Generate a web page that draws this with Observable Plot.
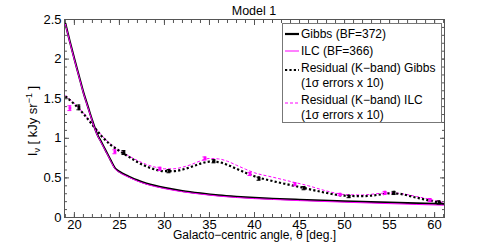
<!DOCTYPE html>
<html><head><meta charset="utf-8">
<script src="https://cdn.jsdelivr.net/npm/d3@7"></script>
<script src="https://cdn.jsdelivr.net/npm/@observablehq/plot@0.6"></script>
<style>
body{margin:0;background:#fff;font-family:"Liberation Sans",Arial,sans-serif;}
#fig{position:relative;width:491px;height:245px;}
#title{position:absolute;left:0;width:508px;top:4px;text-align:center;font-size:12.5px;color:#000;}
#ylab{position:absolute;left:33px;top:121px;transform:translate(-50%,-50%) rotate(-90deg);white-space:nowrap;font-size:13px;}
#legend{position:absolute;left:282px;top:23px;width:158px;height:98px;border:1px solid #777;background:#fff;font-size:12px;}
.li{position:absolute;left:18px;white-space:nowrap;line-height:14px;}
.ls{position:absolute;left:1px;}
</style></head>
<body><div id="fig">
<div id="title">Model 1</div>
<div id="ylab">I<sub style="font-size:9px">ν</sub> [ kJy sr<sup style="font-size:9px">−1</sup> ]</div>
</div>
<script>
const thetaSmooth = [19,19.5,20,20.5,21,21.5,22,22.5,23,23.5,24,24.5,25,26,27,28,29,30,32,34,36,38,40,42,45,50,55,61];
const gibbsSmooth = [2.45,2.22,2.0,1.79,1.58,1.40,1.22,1.06,0.95,0.84,0.73,0.625,0.58,0.52,0.47,0.43,0.40,0.375,0.335,0.305,0.28,0.262,0.248,0.238,0.225,0.205,0.19,0.17];
const ilcSmooth   = [2.44,2.21,1.99,1.78,1.57,1.39,1.21,1.05,0.94,0.83,0.72,0.615,0.57,0.51,0.46,0.42,0.39,0.365,0.325,0.295,0.27,0.252,0.238,0.228,0.213,0.193,0.175,0.155];

const thetaResid = [19,20,21,22,23,24,25,26,27,28,29,30,31,32,33,34,35,36,37,38,39,40,42,44,46,48,50,52,54,55,56,58,60,61];
const gibbsResid = [1.53,1.43,1.31,1.17,1.03,0.92,0.84,0.77,0.70,0.645,0.605,0.585,0.585,0.605,0.64,0.68,0.705,0.70,0.665,0.615,0.565,0.52,0.46,0.41,0.36,0.31,0.275,0.27,0.29,0.305,0.30,0.25,0.20,0.175];
const ilcResid   = [1.54,1.44,1.32,1.18,1.04,0.93,0.85,0.78,0.72,0.67,0.635,0.615,0.615,0.635,0.67,0.715,0.745,0.74,0.71,0.66,0.61,0.565,0.51,0.455,0.40,0.335,0.29,0.285,0.305,0.31,0.305,0.265,0.215,0.19];

const gibbsPtX = [20.5,25.5,30.5,35.5,40.5,45.5,50.5,55.5,60.5];
const gibbsPtY = [1.39,0.82,0.585,0.71,0.49,0.37,0.265,0.31,0.19];
const gibbsPtE = [0.03,0.025,0.02,0.02,0.02,0.02,0.015,0.02,0.02];
const ilcPtX = [19.5,24.5,29.5,34.5,39.5,44.5,49.5,54.5,59.5];
const ilcPtY = [1.38,0.83,0.615,0.745,0.55,0.42,0.29,0.31,0.22];
const ilcPtE = [0.03,0.025,0.02,0.02,0.02,0.02,0.015,0.02,0.02];

const xMajor = [20,25,30,35,40,45,50,55,60];
const xMinor = d3.range(19,62,1);
const yMajor = [0,0.5,1,1.5,2,2.5];
const yMinor = d3.range(0,26).map(i=>i/10);

const smooth = thetaSmooth.map((t,i)=>({t,g:gibbsSmooth[i],l:ilcSmooth[i]}));
const resid = thetaResid.map((t,i)=>({t,g:gibbsResid[i],l:ilcResid[i]}));
const gp = gibbsPtX.map((t,i)=>({t,y:gibbsPtY[i],e:gibbsPtE[i]}));
const lp = ilcPtX.map((t,i)=>({t,y:ilcPtY[i],e:ilcPtE[i]}));
const M = "#ff00ff";

function errMarks(data, color){
  return [
    Plot.ruleX(data,{x:"t",y1:d=>d.y-d.e,y2:d=>d.y+d.e,stroke:color,strokeWidth:1.5}),
    Plot.ruleY(data,{y:d=>d.y-d.e,x1:d=>d.t-0.22,x2:d=>d.t+0.22,stroke:color,strokeWidth:1}),
    Plot.ruleY(data,{y:d=>d.y+d.e,x1:d=>d.t-0.22,x2:d=>d.t+0.22,stroke:color,strokeWidth:1}),
    Plot.dot(data,{x:"t",y:"y",symbol:"square",r:1.6,fill:color,stroke:"none"})
  ];
}

const chart = Plot.plot({
  width:491, height:245,
  marginLeft:64, marginRight:47, marginTop:19, marginBottom:28,
  style:{fontFamily:"Liberation Sans, Arial, sans-serif", fontSize:"13px", color:"#000", background:"transparent"},
  x:{domain:[18.9,61.1]},
  y:{domain:[0,2.5]},
  marks:[
    Plot.line(resid,{x:"t",y:"l",stroke:M,strokeWidth:1,strokeDasharray:"3,2",strokeLinecap:"butt",curve:"monotone-x"}),
    Plot.line(resid,{x:"t",y:"g",stroke:"#000",strokeWidth:2.2,strokeDasharray:"2.2,2.2",strokeLinecap:"butt",curve:"monotone-x"}),
    Plot.line(smooth,{x:"t",y:"g",stroke:"#000",strokeWidth:2,curve:"monotone-x"}),
    Plot.line(smooth,{x:"t",y:"l",stroke:M,strokeWidth:1,curve:"monotone-x"}),
    ...errMarks(lp, M),
    ...errMarks(gp, "#000"),
    Plot.frame({stroke:"#555"}),
    Plot.axisX({anchor:"bottom",ticks:xMajor,tickSize:0,tickPadding:2.5,label:null,fontSize:13}),
    Plot.axisX({anchor:"bottom",ticks:[],tickSize:0,label:"Galacto−centric angle, θ [deg.]",labelAnchor:"center",labelArrow:"none",labelOffset:21.5,fontSize:12}),
    Plot.axisX({anchor:"bottom",ticks:xMinor,tickSize:-3,fill:"none",label:null,stroke:"#555"}),
    Plot.axisX({anchor:"top",ticks:xMinor,tickSize:-3,fill:"none",label:null,stroke:"#555"}),
    Plot.axisX({anchor:"bottom",ticks:xMajor,tickSize:-5,fill:"none",label:null,stroke:"#555"}),
    Plot.axisX({anchor:"top",ticks:xMajor,tickSize:-5,fill:"none",label:null,stroke:"#555"}),
    Plot.axisY({anchor:"left",ticks:yMajor,tickSize:0,tickPadding:3,tickFormat:d=>String(d),label:null}),
    Plot.axisY({anchor:"left",ticks:yMinor,tickSize:-3,fill:"none",label:null,stroke:"#555"}),
    Plot.axisY({anchor:"right",ticks:yMinor,tickSize:-3,fill:"none",label:null,stroke:"#555"}),
    Plot.axisY({anchor:"left",ticks:yMajor,tickSize:-5,fill:"none",label:null,stroke:"#555"}),
    Plot.axisY({anchor:"right",ticks:yMajor,tickSize:-5,fill:"none",label:null,stroke:"#555"})
  ]
});
const fig = document.getElementById("fig");
fig.insertBefore(chart, fig.firstChild);

const legend = document.createElement("div");
legend.id = "legend";
const items = [
  {top:3, text:"Gibbs (BF=372)", sy:10, stroke:"#000", w:2.2, dash:null},
  {top:20, text:"ILC (BF=366)", sy:27, stroke:M, w:1, dash:null},
  {top:37, text:"Residual (K−band) Gibbs<br>(1σ errors x 10)", sy:46, stroke:"#000", w:2.2, dash:"2.2,2.2"},
  {top:69, text:"Residual (K−band) ILC<br>(1σ errors x 10)", sy:79, stroke:M, w:1, dash:"3,2"}
];
for (const it of items){
  const d = document.createElement("div");
  d.className="li"; d.style.top = it.top+"px"; d.style.lineHeight="15px"; d.innerHTML = it.text;
  legend.appendChild(d);
  const s = document.createElementNS("http://www.w3.org/2000/svg","svg");
  s.setAttribute("width","16"); s.setAttribute("height","6");
  s.setAttribute("class","ls"); s.style.top=(it.sy-3)+"px";
  const l = document.createElementNS("http://www.w3.org/2000/svg","line");
  l.setAttribute("x1","1"); l.setAttribute("x2","15"); l.setAttribute("y1","3"); l.setAttribute("y2","3");
  l.setAttribute("stroke",it.stroke); l.setAttribute("stroke-width",it.w);
  if(it.dash) l.setAttribute("stroke-dasharray",it.dash);
  s.appendChild(l); legend.appendChild(s);
}
fig.appendChild(legend);
</script>
</body></html>
